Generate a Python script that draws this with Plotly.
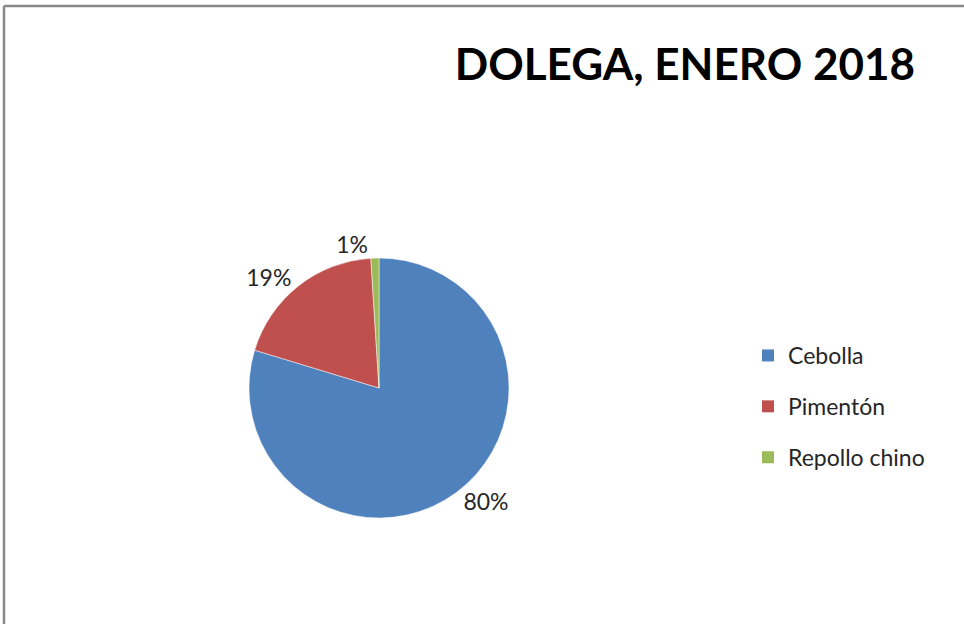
import plotly.graph_objects as go

categories = ["Cebolla", "Pimentón", "Repollo chino"]
values = [79.7, 19.3, 1.0]
colors = ["#4F81BD", "#C0504D", "#9BBB59"]
title_text = "DOLEGA, ENERO 2018"

W, H = 964, 624
cx, cy, r = 379, 388, 130

fig = go.Figure()
fig.add_trace(go.Pie(
    labels=categories,
    values=values,
    sort=False,
    direction="clockwise",
    rotation=0,
    marker=dict(colors=colors, line=dict(color="white", width=0.5)),
    textposition="outside",
    texttemplate="%{percent:.0%}",
    textfont=dict(family="Lato", size=23, color="#262626"),
    showlegend=False,
    hoverinfo="label+percent",
    domain=dict(x=[(cx - r) / W, (cx + r) / W], y=[(H - cy - r) / H, (H - cy + r) / H]),
))

for name, col in zip(categories, colors):
    fig.add_trace(go.Scatter(
        x=[None], y=[None], mode="markers", name=name, legendgroup=name,
        marker=dict(symbol="square", size=12, color=col),
    ))

fig.update_layout(
    width=W, height=H,
    margin=dict(l=0, r=0, t=0, b=0),
    paper_bgcolor="white", plot_bgcolor="white",
    xaxis=dict(visible=False), yaxis=dict(visible=False),
    title=dict(text="<b>" + title_text + "</b>", x=915 / W, xanchor="right",
               y=1 - 65 / H, yanchor="middle", yref="container", xref="container",
               font=dict(family="Lato", size=44, color="#000000")),
    legend=dict(x=748 / W, y=1 - 334 / H, xanchor="left", yanchor="top",
                font=dict(family="Lato", size=23, color="#262626"),
                tracegroupgap=18, bgcolor="rgba(0,0,0,0)"),
    shapes=[
        dict(type="line", xref="paper", yref="paper", x0=4 / W, x1=1, y0=1 - 6 / H, y1=1 - 6 / H,
             line=dict(color="#888888", width=2.5)),
        dict(type="line", xref="paper", yref="paper", x0=4 / W, x1=4 / W, y0=0, y1=1 - 6 / H,
             line=dict(color="#888888", width=2.5)),
    ],
)

fig.write_html("out.html", config={"displayModeBar": False},
               post_script="document.body.style.margin='0';document.body.style.overflow='hidden';")
